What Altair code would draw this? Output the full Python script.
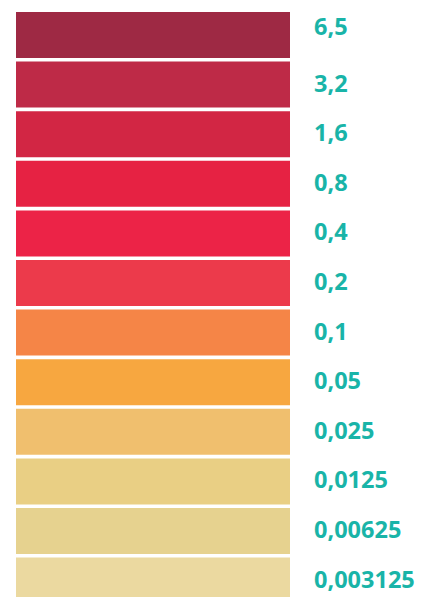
import altair as alt
import pandas as pd

labels = ["6,5", "3,2", "1,6", "0,8", "0,4", "0,2", "0,1", "0,05", "0,025", "0,0125", "0,00625", "0,003125"]
colors = ["#9E2944", "#BE2A47", "#D22644", "#E62243", "#EC2347", "#EC3A4B",
          "#F58547", "#F7A740", "#F0BF6E", "#E9CF84", "#E6D28F", "#EBD9A0"]

df = pd.DataFrame({"label": labels, "color": colors})

yscale = alt.Scale(domain=labels, range=[2.2, 597.4], paddingInner=0.0726, paddingOuter=0.0363)
y = alt.Y("label:N", scale=yscale, axis=None, sort=labels)

bars = alt.Chart(df).mark_bar(cornerRadius=0).encode(
    y=y,
    x=alt.value(8),
    x2=alt.value(282),
    color=alt.Color("color:N", scale=None, legend=None),
)

def text_layer(dy):
    return alt.Chart(df).mark_text(
        align="left", baseline="middle", font="Open Sans", fontWeight="bold",
        fontSize=23.5, color="#19B4A8", dy=dy,
    ).encode(
        y=y,
        x=alt.value(306),
        text="label:N",
    )

text_top = text_layer(-7).transform_filter(alt.datum.label == labels[0])
text_rest = text_layer(0).transform_filter(alt.datum.label != labels[0])

chart = alt.layer(bars, text_top, text_rest).properties(
    width=417, height=600, padding=0,
    autosize=alt.AutoSizeParams(type="none"),
).configure_view(strokeWidth=0)

chart.save("out.html", embed_options={"renderer": "svg", "actions": False})
